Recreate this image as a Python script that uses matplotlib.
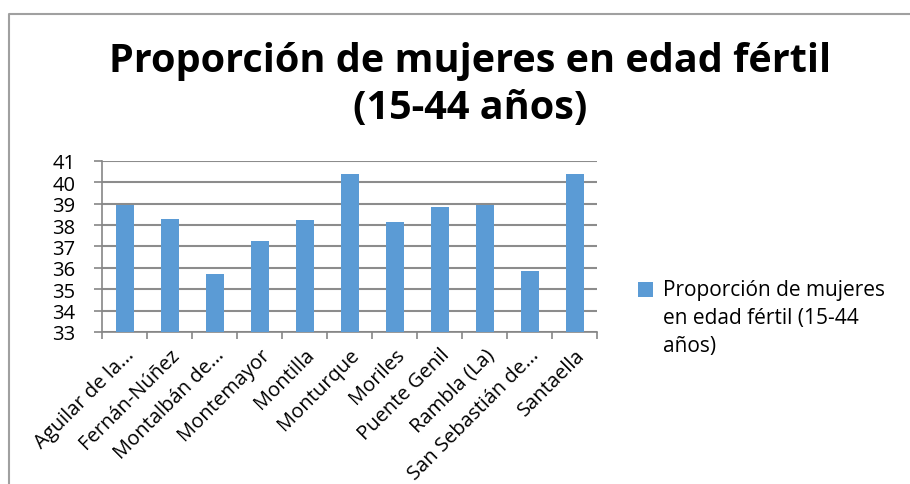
import numpy as np
import matplotlib.pyplot as plt
from matplotlib.lines import Line2D

municipios = ["Aguilar de la...", "Fernán-Núñez", "Montalbán de...", "Montemayor",
              "Montilla", "Monturque", "Moriles", "Puente Genil", "Rambla (La)",
              "San Sebastián de...", "Santaella"]
proporcion = [38.95, 38.30, 35.71, 37.26, 38.22, 40.41, 38.15, 38.87, 38.93, 35.87, 40.41]
serie = "Proporción de mujeres\nen edad fértil (15-44\naños)"
titulo = "Proporción de mujeres en edad fértil\n(15-44 años)"

plt.rcParams['font.family'] = ['Open Sans', 'DejaVu Sans']

W, H = 910, 485
fig = plt.figure(figsize=(W / 100, H / 100), dpi=100)
ax = fig.add_axes([102 / W, 1 - 333 / H, (597 - 102) / W, (333 - 162) / H])

x = np.arange(len(municipios))
ax.bar(x, proporcion, width=0.4, color="#5B9BD5", zorder=3, label=serie)

ax.set_ylim(33, 41)
ax.set_xlim(-0.5, len(municipios) - 0.5)
ax.set_yticks(range(33, 42))
ax.tick_params(axis='y', labelsize=14.5, length=6, color="#868686", width=1.2, pad=13)
ax.yaxis.grid(True, color="#8c8c8c", linewidth=1.5, zorder=0)

ax.set_xticks(np.arange(len(municipios) + 1) - 0.5)
ax.set_xticklabels([])
ax.set_xticks(x, minor=True)
ax.set_xticklabels(municipios, minor=True, rotation=45, ha='right',
                   rotation_mode='anchor', fontsize=14.5)
ax.tick_params(axis='x', which='major', length=5, color="#868686", width=1.2)
ax.tick_params(axis='x', which='minor', length=0, pad=9)

for s in ['top', 'right']:
    ax.spines[s].set_visible(False)
for s in ['left', 'bottom']:
    ax.spines[s].set_color("#868686")
    ax.spines[s].set_linewidth(1.2)

fig.text(470 / W, 1 - 85 / H, titulo, ha='center', va='center',
         fontsize=28.5, fontweight='bold', linespacing=1.25)

leg = fig.legend(loc='upper left', bbox_to_anchor=(638 / W, 1 - 280 / H),
                 frameon=False, fontsize=15, handlelength=0.7, handleheight=0.7,
                 handletextpad=0.5, borderaxespad=0, borderpad=0)
for t in leg.get_texts():
    t.set_linespacing(1.45)
# square next to the first line of the label
leg.legend_handles[0].set_y(leg.legend_handles[0].get_y() + 21)

fig.add_artist(Line2D([9 / W, 9 / W, 1], [0, 1 - 15 / H, 1 - 15 / H],
                      color="#a0a0a0", linewidth=1.5, transform=fig.transFigure))

fig.savefig("out.png", dpi=100)
